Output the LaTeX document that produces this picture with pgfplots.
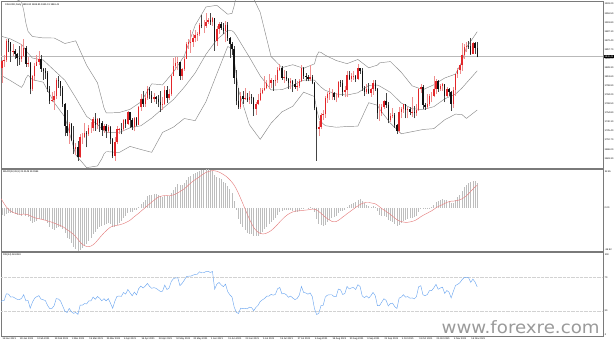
\documentclass[border=0pt]{standalone}
\usepackage{graphicx}
\usepackage{pgfplots}
\pgfplotsset{compat=1.18}
\usepackage{pgfplotstable}
\usepackage{fontspec}
\setmainfont{Liberation Sans}
\newfontfamily\wmfont{DejaVu Sans}
\definecolor{bull}{HTML}{E3262A}
\definecolor{bullwick}{HTML}{EE8E8E}
\definecolor{bear}{HTML}{111111}
\definecolor{bearwick}{HTML}{444444}
\definecolor{band}{HTML}{8A8A8A}
\definecolor{frame}{HTML}{7A7A7A}
\definecolor{histc}{HTML}{BDBDBD}
\definecolor{sigc}{HTML}{E58080}
\definecolor{rsic}{HTML}{6FA8F0}
\definecolor{wm}{HTML}{9A9A9A}
\newcommand{\mtfont}{\fontsize{2.4}{2.8}\selectfont}

\pgfplotstableread{
i o h l c
-1 1846 1855 1803 1828
0 1828 1841 1804 1839
1 1839 1849 1830 1840
2 1840 1875 1838 1871
3 1871 1875 1853 1870
4 1870 1870 1837 1855
5 1855 1867 1847 1856
6 1856 1858 1842 1850
7 1850 1852 1831 1844
8 1844 1864 1832 1843
9 1843 1866 1838 1847
10 1847 1875 1845 1860
11 1860 1864 1830 1834
12 1834 1845 1829 1835
13 1835 1838 1785 1793
14 1793 1817 1791 1814
15 1814 1835 1807 1831
16 1831 1848 1831 1838
17 1838 1855 1832 1842
18 1842 1848 1821 1826
19 1826 1828 1808 1823
20 1823 1827 1810 1819
21 1819 1822 1789 1794
22 1794 1798 1769 1774
23 1774 1788 1772 1775
24 1775 1790 1760 1783
25 1783 1811 1777 1808
26 1808 1815 1796 1806
27 1806 1807 1782 1796
28 1796 1798 1765 1769
29 1769 1771 1717 1734
30 1734 1760 1717 1723
31 1723 1740 1705 1737
32 1737 1738 1709 1711
33 1711 1733 1688 1697
34 1697 1706 1687 1700
35 1700 1709 1677 1683
36 1683 1720 1682 1716
37 1716 1723 1705 1716
38 1716 1739 1714 1722
39 1722 1726 1699 1720
40 1720 1735 1718 1731
41 1731 1740 1723 1731
42 1731 1748 1725 1745
43 1745 1755 1726 1735
44 1735 1747 1728 1745
45 1745 1746 1724 1738
46 1738 1742 1718 1727
47 1727 1737 1723 1734
48 1734 1737 1714 1725
49 1725 1735 1722 1732
50 1732 1733 1705 1712
51 1712 1714 1681 1685
52 1685 1716 1677 1708
53 1708 1733 1705 1728
54 1728 1731 1721 1729
55 1729 1738 1720 1728
56 1728 1745 1725 1743
57 1743 1745 1731 1737
58 1737 1758 1735 1756
59 1756 1756 1731 1744
60 1744 1746 1727 1732
61 1732 1748 1725 1747
62 1747 1748 1733 1736
63 1736 1766 1735 1764
64 1764 1785 1758 1777
65 1777 1790 1765 1770
66 1770 1784 1765 1779
67 1779 1798 1776 1794
68 1794 1797 1778 1784
69 1784 1790 1771 1777
70 1777 1787 1773 1780
71 1780 1783 1770 1778
72 1778 1784 1764 1773
73 1773 1790 1756 1768
74 1768 1780 1760 1769
75 1769 1799 1767 1792
76 1792 1798 1771 1779
77 1779 1793 1776 1785
78 1785 1818 1783 1815
79 1815 1844 1814 1831
80 1831 1845 1824 1836
81 1836 1845 1825 1837
82 1837 1838 1808 1815
83 1815 1828 1809 1826
84 1826 1845 1823 1843
85 1843 1869 1842 1867
86 1867 1874 1858 1869
87 1869 1890 1852 1870
88 1870 1882 1862 1876
89 1876 1890 1869 1881
90 1881 1886 1872 1882
91 1882 1900 1879 1898
92 1898 1913 1892 1896
93 1896 1905 1884 1896
94 1896 1916 1893 1903
95 1903 1909 1899 1905
96 1905 1916 1898 1903
97 1903 1910 1896 1909
98 1909 1909 1856 1871
99 1871 1895 1863 1891
100 1891 1903 1883 1899
101 1899 1903 1890 1893
102 1893 1900 1882 1888
103 1888 1904 1869 1898
104 1898 1903 1872 1877
105 1877 1878 1844 1866
106 1866 1869 1848 1858
107 1858 1864 1802 1811
108 1811 1825 1767 1774
109 1774 1795 1761 1764
110 1764 1788 1761 1782
111 1782 1790 1770 1778
112 1778 1795 1776 1779
113 1779 1787 1772 1776
114 1776 1790 1770 1781
115 1781 1786 1770 1779
116 1779 1780 1750 1761
117 1761 1773 1751 1770
118 1770 1785 1767 1776
119 1776 1795 1774 1787
120 1787 1795 1785 1792
121 1792 1815 1790 1796
122 1796 1809 1793 1803
123 1803 1818 1794 1803
124 1803 1812 1795 1808
125 1808 1809 1791 1806
126 1806 1817 1798 1808
127 1808 1830 1804 1824
128 1824 1834 1822 1828
129 1828 1831 1809 1812
130 1812 1825 1804 1813
131 1813 1823 1806 1810
132 1810 1812 1793 1803
133 1803 1811 1794 1806
134 1806 1809 1789 1801
135 1801 1810 1794 1797
136 1797 1806 1791 1799
137 1799 1810 1795 1806
138 1806 1832 1805 1828
139 1828 1830 1810 1814
140 1814 1820 1806 1813
141 1813 1817 1806 1810
142 1810 1832 1807 1813
143 1813 1816 1801 1804
144 1804 1805 1759 1763
145 1763 1764 1677 1729
146 1729 1741 1717 1732
147 1732 1755 1728 1752
148 1752 1760 1743 1753
149 1753 1782 1747 1779
150 1779 1788 1771 1786
151 1786 1795 1776 1787
152 1787 1794 1776 1787
153 1787 1789 1775 1781
154 1781 1787 1772 1781
155 1781 1806 1779 1805
156 1805 1809 1797 1803
157 1803 1808 1782 1789
158 1789 1799 1780 1792
159 1792 1823 1781 1817
160 1817 1822 1808 1810
161 1810 1820 1805 1814
162 1814 1822 1808 1815
163 1815 1816 1805 1810
164 1810 1834 1808 1827
165 1827 1828 1818 1823
166 1823 1827 1791 1795
167 1795 1799 1782 1789
168 1789 1801 1786 1794
169 1794 1804 1786 1787
170 1787 1795 1781 1794
171 1794 1809 1784 1804
172 1804 1808 1791 1794
173 1794 1795 1745 1754
174 1754 1769 1742 1754
175 1754 1770 1750 1764
176 1764 1776 1762 1774
177 1774 1787 1763 1768
178 1768 1773 1738 1743
179 1743 1755 1740 1750
180 1750 1763 1746 1751
181 1751 1755 1731 1735
182 1735 1737 1721 1726
183 1726 1764 1723 1757
184 1757 1765 1746 1761
185 1761 1770 1755 1769
186 1769 1770 1746 1760
187 1760 1764 1746 1762
188 1762 1765 1751 1756
189 1756 1781 1749 1757
190 1757 1766 1746 1754
191 1754 1770 1750 1760
192 1760 1796 1758 1793
193 1793 1801 1787 1797
194 1797 1800 1762 1768
195 1768 1771 1760 1765
196 1765 1785 1762 1769
197 1769 1786 1766 1783
198 1783 1789 1772 1783
199 1783 1814 1780 1793
200 1793 1810 1786 1807
201 1807 1809 1789 1793
202 1793 1802 1790 1798
203 1798 1804 1791 1801
204 1801 1802 1772 1783
205 1783 1797 1780 1793
206 1793 1796 1783 1788
207 1788 1791 1758 1769
208 1769 1797 1763 1792
209 1792 1818 1782 1818
210 1818 1827 1812 1824
211 1824 1833 1818 1832
212 1832 1868 1823 1849
213 1849 1866 1843 1862
214 1862 1870 1854 1864
215 1864 1872 1859 1863
216 1863 1877 1849 1851
217 1851 1870 1850 1868
218 1868 1869 1851 1860
219 1860 1870 1845 1846
}\candles

\pgfplotstableread{
i mid up lo
-1 1879.8 1942.6 1816.9
4 1874.7 1942.3 1807.0
9 1865.7 1935.1 1796.2
10 1861.5 1921.3 1801.7
11 1855.7 1900.6 1810.8
12 1851.6 1887.0 1816.1
14 1843.8 1878.8 1808.7
19 1840.6 1876.4 1804.7
24 1824.1 1876.3 1771.8
29 1807.7 1867.4 1748.0
34 1779.3 1871.7 1686.9
39 1749.2 1832.1 1666.2
44 1736.3 1803.6 1668.9
46 1728.8 1777.0 1680.6
47 1725.7 1763.0 1688.4
48 1723.5 1755.1 1691.9
49 1723.4 1754.8 1692.0
54 1723.1 1755.5 1690.7
59 1730.7 1760.7 1700.6
64 1734.1 1772.6 1695.6
69 1746.5 1802.0 1691.0
74 1761.8 1800.3 1723.3
79 1776.5 1821.2 1731.8
84 1796.6 1847.3 1745.8
89 1819.5 1896.7 1742.3
94 1849.9 1926.6 1773.1
99 1873.7 1929.3 1818.1
104 1888.6 1914.8 1862.4
106 1888.0 1916.3 1859.7
107 1885.1 1928.5 1841.6
108 1880.0 1945.0 1814.9
109 1874.1 1956.5 1791.7
114 1845.2 1954.5 1735.8
119 1814.9 1917.7 1712.0
124 1792.2 1846.2 1738.2
129 1792.5 1828.3 1756.6
134 1799.3 1833.0 1765.6
139 1807.9 1827.2 1788.5
144 1807.9 1834.4 1781.4
145 1804.1 1847.5 1760.6
146 1800.3 1853.8 1746.7
147 1796.7 1852.9 1740.4
149 1791.3 1848.3 1734.2
154 1785.7 1839.8 1731.6
159 1783.8 1834.7 1732.9
164 1787.5 1841.5 1733.4
169 1799.6 1827.9 1771.4
173 1799.9 1832.4 1767.3
174 1798.5 1836.0 1761.0
179 1788.2 1838.1 1738.2
184 1770.9 1820.7 1721.0
189 1761.7 1798.8 1724.5
194 1760.3 1792.5 1728.0
199 1765.0 1800.5 1729.4
204 1777.6 1811.4 1743.7
209 1785.4 1817.8 1752.9
212 1795.3 1838.5 1752.1
214 1803.3 1860.7 1745.9
219 1823.1 1886.5 1759.6
}\bands

\pgfplotstableread{
i m s r
-1 -3.9 9.2 39.2
0 -5.7 6.4 42.2
1 -7.0 3.5 42.5
2 -5.5 0.7 50.5
3 -4.3 -1.2 50.2
4 -4.5 -2.7 46.6
5 -4.5 -3.8 46.9
6 -5.0 -4.5 45.4
7 -5.8 -5.1 43.9
8 -6.4 -5.4 43.6
9 -6.5 -5.5 45.0
10 -5.5 -5.3 49.4
11 -6.7 -5.5 42.1
12 -7.5 -5.8 42.5
13 -11.4 -6.6 33.3
14 -12.6 -7.5 40.2
15 -12.1 -8.3 45.2
16 -11.0 -8.9 47.1
17 -9.7 -9.2 48.3
18 -9.8 -9.6 44.2
19 -10.0 -10.1 43.4
20 -10.4 -10.5 42.4
21 -12.6 -11.1 36.6
22 -15.8 -11.6 32.7
23 -18.0 -12.2 33.1
24 -18.9 -12.9 36.2
25 -17.4 -13.6 44.8
26 -16.2 -14.3 44.3
27 -15.8 -15.0 41.8
28 -17.6 -15.9 35.7
29 -21.5 -17.1 29.7
30 -25.2 -18.5 28.1
31 -26.7 -19.7 33.0
32 -29.6 -21.0 29.0
33 -32.7 -22.5 27.1
34 -34.5 -24.4 28.2
35 -36.9 -26.7 25.9
36 -35.7 -28.9 36.9
37 -34.3 -30.8 36.9
38 -32.4 -32.0 38.8
39 -30.7 -32.6 38.4
40 -28.1 -32.8 42.0
41 -25.7 -32.3 42.0
42 -22.4 -31.2 46.7
43 -20.4 -29.6 43.9
44 -17.8 -27.5 47.3
45 -16.1 -25.3 45.2
46 -15.5 -23.2 42.1
47 -14.3 -21.2 44.7
48 -13.9 -19.4 42.1
49 -12.9 -17.7 44.8
50 -13.6 -16.3 39.2
51 -16.1 -15.6 33.2
52 -16.1 -15.1 41.5
53 -14.3 -14.8 47.5
54 -12.6 -14.4 47.8
55 -11.2 -13.9 47.5
56 -8.8 -13.3 52.1
57 -7.3 -12.5 50.2
58 -4.5 -11.6 55.7
59 -3.2 -10.5 51.8
60 -3.1 -9.0 48.2
61 -1.9 -7.4 52.6
62 -1.8 -6.0 49.3
63 0.6 -4.6 56.8
64 3.5 -2.9 59.8
65 5.1 -1.4 57.5
66 7.0 0.2 59.7
67 9.7 1.8 63.0
68 10.9 3.3 59.5
69 11.1 4.9 57.1
70 11.4 6.4 57.9
71 11.3 7.8 57.1
72 10.7 9.0 55.2
73 9.8 9.7 53.3
74 9.0 10.1 53.7
75 10.1 10.4 61.0
76 9.8 10.5 55.6
77 10.0 10.4 57.5
78 12.3 10.5 65.3
79 15.3 10.9 68.6
80 17.9 11.7 69.6
81 19.8 12.7 69.8
82 19.3 13.7 60.3
83 19.6 14.9 63.0
84 20.9 16.1 66.8
85 23.7 17.6 71.2
86 25.7 19.4 71.6
87 27.1 21.0 71.7
88 28.4 22.5 72.9
89 29.5 23.8 73.8
90 30.1 24.9 74.0
91 31.4 26.3 76.9
92 32.0 27.6 75.7
93 32.1 28.9 75.8
94 32.4 29.9 77.1
95 32.4 30.6 77.5
96 31.9 31.1 76.1
97 31.5 31.5 77.3
98 27.9 31.3 56.1
99 26.4 30.9 62.0
100 25.5 30.2 64.1
101 24.0 29.3 61.3
102 22.2 28.2 59.1
103 21.4 27.0 62.1
104 18.8 25.5 53.2
105 15.6 23.7 49.3
106 12.3 21.6 46.6
107 5.8 19.1 34.6
108 -2.2 15.9 28.4
109 -9.3 12.1 27.0
110 -13.3 7.9 33.4
111 -16.6 3.6 32.7
112 -19.0 -0.9 33.1
113 -20.9 -5.3 32.5
114 -21.7 -9.4 34.5
115 -22.3 -13.3 34.1
116 -23.9 -16.6 30.3
117 -24.1 -19.0 34.2
118 -23.6 -20.6 36.7
119 -22.0 -21.6 41.3
120 -20.1 -22.0 43.3
121 -18.1 -21.9 44.9
122 -15.8 -21.3 47.7
123 -13.8 -20.4 47.7
124 -11.6 -19.2 49.8
125 -10.0 -17.7 48.9
126 -8.4 -15.9 49.9
127 -5.8 -14.0 56.6
128 -3.4 -11.9 58.1
129 -2.7 -10.0 50.5
130 -2.1 -8.2 50.9
131 -1.9 -6.6 49.5
132 -2.2 -5.3 46.3
133 -2.2 -4.3 47.8
134 -2.6 -3.5 45.5
135 -3.1 -2.9 43.6
136 -3.3 -2.6 44.9
137 -2.9 -2.6 49.0
138 -0.8 -2.3 59.3
139 -0.3 -2.1 52.1
140 0.0 -1.9 51.6
141 0.1 -1.7 50.1
142 0.3 -1.4 51.6
143 -0.2 -1.1 47.0
144 -3.9 -1.2 32.7
145 -9.4 -1.9 25.7
146 -13.4 -3.1 27.2
147 -14.8 -4.6 36.3
148 -15.6 -6.3 36.7
149 -14.1 -7.9 46.7
150 -12.1 -9.2 49.0
151 -10.3 -10.4 49.4
152 -8.8 -11.4 49.4
153 -8.0 -11.8 47.2
154 -7.3 -11.6 47.2
155 -4.7 -10.6 56.2
156 -2.8 -9.3 55.3
157 -2.4 -7.8 49.7
158 -1.8 -6.5 50.9
159 0.7 -5.0 59.3
160 2.0 -3.7 56.4
161 3.3 -2.3 57.7
162 4.4 -1.0 58.0
163 4.9 0.4 55.7
164 6.5 1.6 61.4
165 7.3 2.8 59.4
166 5.7 3.7 48.0
167 3.9 4.3 45.9
168 2.8 4.5 47.9
169 1.4 4.5 45.4
170 0.8 4.2 48.3
171 1.2 3.8 52.2
172 0.6 3.4 48.3
173 -3.0 2.3 36.4
174 -5.8 0.8 36.4
175 -7.1 -0.6 40.6
176 -7.2 -1.8 44.6
177 -7.8 -3.0 42.7
178 -10.1 -4.3 36.0
179 -11.2 -5.6 38.9
180 -11.9 -7.1 39.3
181 -13.6 -8.6 35.1
182 -15.5 -10.0 33.0
183 -14.3 -11.0 45.3
184 -12.9 -11.6 46.6
185 -11.0 -12.0 49.4
186 -10.1 -12.3 46.5
187 -9.2 -12.2 47.2
188 -8.8 -11.9 45.2
189 -8.3 -11.5 45.6
190 -8.0 -10.9 44.5
191 -7.2 -10.0 47.2
192 -3.9 -8.8 59.0
193 -1.0 -7.5 60.2
194 -1.0 -6.4 49.3
195 -1.3 -5.4 48.3
196 -1.2 -4.5 49.7
197 0.1 -3.5 54.4
198 1.1 -2.5 54.4
199 2.7 -1.3 57.7
200 5.0 0.1 61.9
201 5.6 1.1 56.0
202 6.4 1.9 57.5
203 7.2 2.8 58.5
204 6.4 3.7 51.0
205 6.5 4.6 54.5
206 6.1 5.2 52.5
207 4.1 5.6 45.6
208 4.4 5.7 53.5
209 6.6 5.9 60.5
210 8.8 6.3 61.9
211 11.1 6.8 63.8
212 14.1 7.6 67.4
213 17.3 8.8 69.9
214 19.7 10.2 70.3
215 21.4 11.9 69.9
216 21.5 13.9 64.3
217 22.6 15.9 68.1
218 22.6 17.7 64.6
219 21.2 19.1 58.8
}\ind

\pgfplotsset{
  mt/.style={
    scale only axis, width=602pt, anchor=south west,
    xmin=-0.46, xmax=276.96,
    clip mode=individual,
    axis line style={frame, line width=0.55pt},
    tick style={frame, line width=0.3pt},
    major tick length=1.4pt, tick align=outside,
    ytick pos=right, yticklabel pos=right, xtick pos=left,
    ticklabel style={font=\mtfont, text=black},
    yticklabel style={inner sep=0.4pt, xshift=-0.3pt},
    /pgf/number format/assume math mode=true,
    /pgf/number format/1000 sep={},
    scaled y ticks=false,
  }
}

\begin{document}
\begin{tikzpicture}
\useasboundingbox (0,0) rectangle (614pt,343pt);

% ---------------- main price window ----------------
\begin{axis}[mt, at={(1pt,174.5pt)}, height=167.5pt,
  ymin=1664.78, ymax=1936.26, xtick=\empty,
  ytick={1681.3,1696.0,1710.7,1725.4,1740.1,1754.8,1769.5,1784.2,1798.9,1813.6,1828.3,1843.0,1857.7,1872.4,1887.1,1901.8,1916.5,1931.2},
  yticklabel style={/pgf/number format/fixed,/pgf/number format/fixed zerofill,/pgf/number format/precision=2}]
\addplot[gray!55, line width=0.4pt, no markers] coordinates {(-1,1846.41) (278,1846.41)};
\addplot[band, line width=0.45pt, no markers] table[x=i,y=up]{\bands};
\addplot[band, line width=0.45pt, no markers] table[x=i,y=mid]{\bands};
\addplot[band, line width=0.45pt, no markers] table[x=i,y=lo]{\bands};
% wicks
\addplot[bullwick, no markers, line width=0.6pt,
  restrict expr to domain={\thisrow{c}-\thisrow{o}}{0:1000},
  quiver={u=0, v=\thisrow{h}-\thisrow{l}, every arrow/.append style={line width=0.6pt, draw=bullwick}}]
  table[x=i,y=l]{\candles};
\addplot[bearwick, no markers, line width=0.6pt,
  restrict expr to domain={\thisrow{c}-\thisrow{o}}{-1000:-0.01},
  quiver={u=0, v=\thisrow{h}-\thisrow{l}, every arrow/.append style={line width=0.6pt, draw=bearwick}}]
  table[x=i,y=l]{\candles};
% bodies
\addplot[bull, no markers, line width=1.4pt,
  restrict expr to domain={\thisrow{c}-\thisrow{o}}{0:1000},
  quiver={u=0, v=\thisrow{c}-\thisrow{o}, every arrow/.append style={line width=1.4pt, draw=bull}}]
  table[x=i,y=o]{\candles};
\addplot[bear, no markers, line width=1.4pt,
  restrict expr to domain={\thisrow{c}-\thisrow{o}}{-1000:-0.01},
  quiver={u=0, v=\thisrow{c}-\thisrow{o}, every arrow/.append style={line width=1.4pt, draw=bear}}]
  table[x=i,y=o]{\candles};
\coordinate (bid) at (axis cs:276.96,1846.41);
\node[anchor=north west, font=\mtfont, inner sep=0pt, xshift=4pt, yshift=-2.2pt] at (rel axis cs:0,1) {XAUUSD,Daily\ \ 1859.82 1869.85 1845.01 1846.41};
\end{axis}
\node[anchor=west, fill=black, text=white, font=\mtfont, inner sep=0.45pt] at ([xshift=1pt]bid) {1846.41};

% ---------------- MACD window ----------------
\begin{axis}[mt, at={(1pt,91.5pt)}, height=82pt,
  ymin=-36.9, ymax=32.4, xtick=\empty,
  ytick={0}, yticklabels={0.00}]
\addplot[ycomb, draw=histc, line width=0.75pt, no markers] table[x=i,y=m]{\ind};
\addplot[sigc, line width=0.45pt, no markers] table[x=i,y=s]{\ind};
\node[anchor=north west, font=\mtfont, inner sep=0pt, xshift=2pt, yshift=-1.5pt] at (rel axis cs:0,1) {MACD(12,26,9) 21.2149 19.0594};
\node[anchor=north west, font=\mtfont, inner sep=0.4pt, xshift=1.2pt, yshift=-0.3pt] at (rel axis cs:1,1) {32.45};
\node[anchor=south west, font=\mtfont, inner sep=0.4pt, xshift=1.2pt, yshift=0.3pt] at (rel axis cs:1,0) {-36.92};
\end{axis}

% ---------------- RSI window ----------------
\begin{axis}[mt, at={(1pt,7pt)}, height=83.5pt,
  ymin=0, ymax=100, ytick={30,70},
  xtick={0,8,...,216},
  xticklabels={18 Jan 2021,28 Jan 2021,9 Feb 2021,19 Feb 2021,3 Mar 2021,15 Mar 2021,25 Mar 2021,6 Apr 2021,16 Apr 2021,28 Apr 2021,10 May 2021,20 May 2021,1 Jun 2021,11 Jun 2021,23 Jun 2021,5 Jul 2021,15 Jul 2021,27 Jul 2021,6 Aug 2021,18 Aug 2021,30 Aug 2021,9 Sep 2021,21 Sep 2021,1 Oct 2021,13 Oct 2021,25 Oct 2021,4 Nov 2021,16 Nov 2021},
  xticklabel style={anchor=north west, inner sep=0.3pt, xshift=0.2pt, yshift=0.4pt}]
\addplot[gray!35, densely dotted, line width=0.3pt, no markers] coordinates {(-1,70) (278,70)};
\addplot[gray!35, densely dotted, line width=0.3pt, no markers] coordinates {(-1,30) (278,30)};
\addplot[rsic, line width=0.45pt, no markers] table[x=i,y=r]{\ind};
\node[anchor=north west, font=\mtfont, inner sep=0pt, xshift=2pt, yshift=-1.5pt] at (rel axis cs:0,1) {RSI(14) 58.8224};
\node[anchor=north west, font=\mtfont, inner sep=0.4pt, xshift=1.2pt, yshift=-0.6pt] at (rel axis cs:1,1) {100};
\node[anchor=south west, font=\mtfont, inner sep=0.4pt, xshift=1.2pt, yshift=0.3pt] at (rel axis cs:1,0) {0};
\end{axis}

\node[anchor=base west, inner sep=0pt, text=wm] at (441.5pt,9.3pt)
  {\scalebox{1.07}[1]{\wmfont\fontsize{17}{17}\selectfont www.forexre.com}};
\end{tikzpicture}
\end{document}
